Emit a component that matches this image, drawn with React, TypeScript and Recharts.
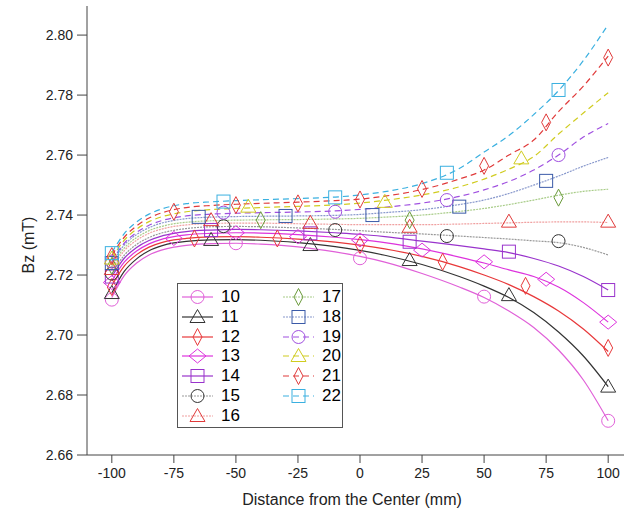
import React from 'react';
import { ComposedChart, Line, Scatter, XAxis, YAxis } from 'recharts';

const CURVE_X = [-100, -95, -90, -85, -80, -75, -70, -60, -50, -40, -25, -10, 0, 10, 25, 40, 50, 60, 70, 80, 90, 100];

const CURVE_10 = [2.7125, 2.7198, 2.724, 2.7267, 2.7283, 2.7293, 2.7299, 2.7305, 2.7306, 2.7303, 2.7294, 2.7277, 2.7262, 2.7243, 2.7205, 2.716, 2.7125, 2.708, 2.7025, 2.695, 2.685, 2.6714];
const CURVE_11 = [2.714, 2.7212, 2.7254, 2.7281, 2.7297, 2.7307, 2.7312, 2.7317, 2.7318, 2.7316, 2.7308, 2.7295, 2.7282, 2.7266, 2.7235, 2.7195, 2.7163, 2.7125, 2.7075, 2.701, 2.693, 2.6828];
const CURVE_12 = [2.7165, 2.723, 2.7268, 2.7293, 2.7308, 2.7317, 2.7322, 2.7327, 2.7328, 2.7326, 2.732, 2.731, 2.73, 2.7287, 2.7262, 2.7228, 2.72, 2.7168, 2.7128, 2.708, 2.702, 2.6945];
const CURVE_13 = [2.718, 2.7243, 2.728, 2.7304, 2.7319, 2.7328, 2.7334, 2.7339, 2.7341, 2.734, 2.7335, 2.7326, 2.7318, 2.7308, 2.7287, 2.726, 2.724, 2.7217, 2.7195, 2.716, 2.7108, 2.7043];
const CURVE_14 = [2.7195, 2.7256, 2.7292, 2.7315, 2.733, 2.7339, 2.7345, 2.735, 2.7352, 2.7351, 2.7347, 2.7341, 2.7336, 2.7328, 2.7313, 2.7298, 2.7287, 2.7275, 2.7255, 2.723, 2.7195, 2.715];
const CURVE_15 = [2.7205, 2.7266, 2.7302, 2.7325, 2.734, 2.7349, 2.7355, 2.7361, 2.7362, 2.7361, 2.7357, 2.7352, 2.7348, 2.7343, 2.7337, 2.733, 2.7325, 2.732, 2.7314, 2.7308, 2.7292, 2.7267];
const CURVE_16 = [2.722, 2.7281, 2.7316, 2.7339, 2.7353, 2.7362, 2.7367, 2.7372, 2.7373, 2.7373, 2.7371, 2.7369, 2.7368, 2.7368, 2.7368, 2.737, 2.7372, 2.7374, 2.7376, 2.7377, 2.7377, 2.7375];
const CURVE_17 = [2.723, 2.729, 2.7325, 2.7348, 2.7362, 2.7371, 2.7376, 2.7381, 2.7383, 2.7384, 2.7385, 2.7387, 2.7389, 2.7393, 2.74, 2.7412, 2.7422, 2.7435, 2.745, 2.7466, 2.7479, 2.7486];
const CURVE_18 = [2.724, 2.73, 2.7335, 2.7358, 2.7373, 2.7382, 2.7388, 2.7393, 2.7395, 2.7396, 2.7397, 2.7399, 2.7402, 2.7408, 2.7418, 2.7435, 2.745, 2.7472, 2.75, 2.753, 2.7563, 2.7592];
const CURVE_19 = [2.7245, 2.7306, 2.7342, 2.7366, 2.7381, 2.7391, 2.7397, 2.7403, 2.7406, 2.7408, 2.741, 2.7414, 2.7419, 2.7426, 2.744, 2.7462, 2.7484, 2.7512, 2.755, 2.76, 2.766, 2.7705];
const CURVE_20 = [2.7255, 2.7316, 2.7353, 2.7378, 2.7394, 2.7404, 2.7411, 2.7418, 2.7422, 2.7425, 2.7429, 2.7434, 2.744, 2.7449, 2.7467, 2.7494, 2.752, 2.7553, 2.7595, 2.767, 2.774, 2.7808];
const CURVE_21 = [2.7265, 2.7326, 2.7364, 2.739, 2.7407, 2.7418, 2.7425, 2.7432, 2.7436, 2.7439, 2.7443, 2.7448, 2.7453, 2.7463, 2.7485, 2.752, 2.755, 2.76, 2.765, 2.7745, 2.783, 2.793];
const CURVE_22 = [2.7275, 2.7338, 2.7377, 2.7403, 2.742, 2.7431, 2.7438, 2.7444, 2.7448, 2.7451, 2.7455, 2.746, 2.7467, 2.7478, 2.7505, 2.7555, 2.761, 2.7665, 2.7735, 2.7815, 2.7915, 2.8035];

// measured points (markers)
const MARK_X_10 = [-100, -50, 0, 50, 100];
const MARK_Y_10 = [2.7118, 2.7306, 2.7256, 2.7128, 2.6714];
const MARK_X_11 = [-100, -60, -20, 20, 60, 100];
const MARK_Y_11 = [2.714, 2.7317, 2.73, 2.725, 2.7133, 2.6828];
const MARK_X_12 = [-100, -66.7, -33.3, 0, 33.3, 66.7, 100];
const MARK_Y_12 = [2.716, 2.7322, 2.7322, 2.73, 2.7244, 2.7164, 2.6957];
const MARK_X_13 = [-100, -75, -50, -25, 0, 25, 50, 75, 100];
const MARK_Y_13 = [2.7175, 2.7322, 2.7341, 2.7328, 2.7317, 2.7283, 2.7244, 2.7186, 2.7043];
const MARK_X_14 = [-100, -60, -20, 20, 60, 100];
const MARK_Y_14 = [2.7195, 2.735, 2.7339, 2.7311, 2.7278, 2.715];
const MARK_X_15 = [-100, -55, -10, 35, 80];
const MARK_Y_15 = [2.7205, 2.7363, 2.735, 2.733, 2.7313];
const MARK_X_16 = [-100, -60, -20, 20, 60, 100];
const MARK_Y_16 = [2.722, 2.7383, 2.7374, 2.7361, 2.7378, 2.7378];
const MARK_X_17 = [-100, -40, 20, 80];
const MARK_Y_17 = [2.723, 2.7383, 2.7383, 2.7458];
const MARK_X_18 = [-100, -65, -30, 5, 40, 75];
const MARK_Y_18 = [2.724, 2.7394, 2.7397, 2.74, 2.7428, 2.7514];
const MARK_X_19 = [-100, -55, -10, 35, 80];
const MARK_Y_19 = [2.7245, 2.7408, 2.7411, 2.745, 2.76];
const MARK_X_20 = [-100, -45, 10, 65];
const MARK_Y_20 = [2.7255, 2.7428, 2.7444, 2.7589];
const MARK_X_21 = [-100, -75, -50, -25, 0, 25, 50, 75, 100];
const MARK_Y_21 = [2.7263, 2.7411, 2.7433, 2.7439, 2.7452, 2.7487, 2.7564, 2.7709, 2.7925];
const MARK_X_22 = [-100, -55, -10, 35, 80];
const MARK_Y_22 = [2.7273, 2.7445, 2.7459, 2.7541, 2.7817];

const X_TICKS = [-100, -75, -50, -25, 0, 25, 50, 75, 100];
const Y_TICKS = [2.66, 2.68, 2.7, 2.72, 2.74, 2.76, 2.78, 2.8];

type Kind = 'circle' | 'triangle' | 'diamond' | 'wide' | 'square';

const SOLID = undefined;
const DOTTED = '2 1';
const DASHED = '6 4';

const SERIES = [
  { name: '10', curve: CURVE_10, mx: MARK_X_10, my: MARK_Y_10, kind: 'circle', color: '#e060d8', line: '#e060d8', dash: SOLID },
  { name: '11', curve: CURVE_11, mx: MARK_X_11, my: MARK_Y_11, kind: 'triangle', color: '#333333', line: '#333333', dash: SOLID },
  { name: '12', curve: CURVE_12, mx: MARK_X_12, my: MARK_Y_12, kind: 'diamond', color: '#e8383a', line: '#e8383a', dash: SOLID },
  { name: '13', curve: CURVE_13, mx: MARK_X_13, my: MARK_Y_13, kind: 'wide', color: '#dd33dd', line: '#dd33dd', dash: SOLID },
  { name: '14', curve: CURVE_14, mx: MARK_X_14, my: MARK_Y_14, kind: 'square', color: '#9933cc', line: '#9933cc', dash: SOLID },
  { name: '15', curve: CURVE_15, mx: MARK_X_15, my: MARK_Y_15, kind: 'circle', color: '#333333', line: '#999999', dash: DOTTED },
  { name: '16', curve: CURVE_16, mx: MARK_X_16, my: MARK_Y_16, kind: 'triangle', color: '#e03a3a', line: '#f0a0a0', dash: DOTTED },
  { name: '17', curve: CURVE_17, mx: MARK_X_17, my: MARK_Y_17, kind: 'diamond', color: '#6a9a3a', line: '#a8cc88', dash: DOTTED },
  { name: '18', curve: CURVE_18, mx: MARK_X_18, my: MARK_Y_18, kind: 'square', color: '#3a5aa8', line: '#8898cc', dash: DOTTED },
  { name: '19', curve: CURVE_19, mx: MARK_X_19, my: MARK_Y_19, kind: 'circle', color: '#a050e0', line: '#a050e0', dash: DASHED },
  { name: '20', curve: CURVE_20, mx: MARK_X_20, my: MARK_Y_20, kind: 'triangle', color: '#d0cc20', line: '#d0cc20', dash: DASHED },
  { name: '21', curve: CURVE_21, mx: MARK_X_21, my: MARK_Y_21, kind: 'diamond', color: '#e03a3a', line: '#e03a3a', dash: DASHED },
  { name: '22', curve: CURVE_22, mx: MARK_X_22, my: MARK_Y_22, kind: 'square', color: '#3ab0e0', line: '#3ab0e0', dash: DASHED },
];

const FONT = '"Liberation Sans", Arial, sans-serif';
const AXIS = '#444444';

const MarkerShape = ({ kind, cx, cy, color }: { kind: Kind; cx: number; cy: number; color: string }) => {
  const common = { fill: 'none', stroke: color, strokeWidth: 1 };
  if (kind === 'circle') return <circle cx={cx} cy={cy} r={6.5} {...common} />;
  if (kind === 'square') return <rect x={cx - 6.5} y={cy - 6.5} width={13} height={13} {...common} />;
  if (kind === 'triangle')
    return <polygon points={`${cx},${cy - 7.5} ${cx + 7.5},${cy + 5.5} ${cx - 7.5},${cy + 5.5}`} {...common} />;
  if (kind === 'wide')
    return <polygon points={`${cx},${cy - 7} ${cx + 8.5},${cy} ${cx},${cy + 7} ${cx - 8.5},${cy}`} {...common} />;
  return <polygon points={`${cx},${cy - 8.5} ${cx + 4.5},${cy} ${cx},${cy + 8.5} ${cx - 4.5},${cy}`} {...common} />;
};

const LegendBox = () => (
  <div
    style={{
      position: 'absolute', left: 177, top: 283, width: 164, height: 143,
      border: '1px solid #555', background: '#fff', fontFamily: FONT,
    }}
  >
    {SERIES.map((s, i) => {
      const col = i < 7 ? 0 : 1;
      const row = i < 7 ? i : i - 7;
      return (
        <div key={s.name} style={{ position: 'absolute', left: 4 + col * 101, top: 3 + row * 19.8, height: 20, display: 'flex', alignItems: 'center' }}>
          <svg width={32} height={20}>
            <line x1={0} y1={10} x2={31} y2={10} stroke={s.line} strokeWidth={1.2} strokeDasharray={s.dash} />
            <MarkerShape kind={s.kind as Kind} cx={15.5} cy={10} color={s.color} />
          </svg>
          <span style={{ marginLeft: 7, fontSize: 17, color: '#000', lineHeight: '20px' }}>{s.name}</span>
        </div>
      );
    })}
  </div>
);

const App: React.FC = () => (
  <div style={{ position: 'absolute', left: 0, top: 0, width: 624, height: 515, overflow: 'hidden', background: '#fff' }}>
    <ComposedChart width={700} height={515} margin={{ top: 6, right: 67, bottom: 0, left: 0 }}>
      <XAxis
        dataKey="x" type="number" domain={[-110, 110]} ticks={X_TICKS} allowDataOverflow
        tickSize={8} tickMargin={5} stroke={AXIS} height={60}
        tick={{ fill: '#222', fontSize: 14, fontFamily: FONT }}
        label={{ value: 'Distance from the Center (mm)', position: 'insideBottom', offset: 10, dx: -8, fill: '#222', fontSize: 16, fontFamily: FONT }}
      />
      <XAxis xAxisId="top" orientation="top" type="number" domain={[-110, 110]} tick={false} tickLine={false} height={0} stroke={AXIS} />
      <YAxis
        type="number" domain={[2.66, 2.8097]} ticks={Y_TICKS} allowDataOverflow width={87}
        tickSize={10} tickMargin={4} stroke={AXIS}
        tickFormatter={(v: number) => v.toFixed(2)}
        tick={{ fill: '#222', fontSize: 14, fontFamily: FONT }}
        label={{
          content: () => (
            <text x={30} y={245} transform="rotate(-90 30 245)" textAnchor="middle" dominantBaseline="middle" fill="#222" fontSize={16} fontFamily={FONT}>
              Bz (mT)
            </text>
          ),
        }}
      />
      {SERIES.map((s) => (
        <Line
          key={`c${s.name}`}
          data={CURVE_X.map((x, i) => ({ x, y: s.curve[i] }))}
          dataKey="y" type="monotone" stroke={s.line} strokeWidth={1.2}
          strokeDasharray={s.dash} dot={false} activeDot={false} isAnimationActive={false}
        />
      ))}
      {SERIES.map((s) => (
        <Scatter
          key={`m${s.name}`}
          data={s.mx.map((x, i) => ({ x, y: s.my[i] }))}
          dataKey="y" isAnimationActive={false}
          shape={(p: any) => <MarkerShape kind={s.kind as Kind} cx={p.cx} cy={p.cy} color={s.color} />}
        />
      ))}
    </ComposedChart>
    <LegendBox />
  </div>
);

export default App;
